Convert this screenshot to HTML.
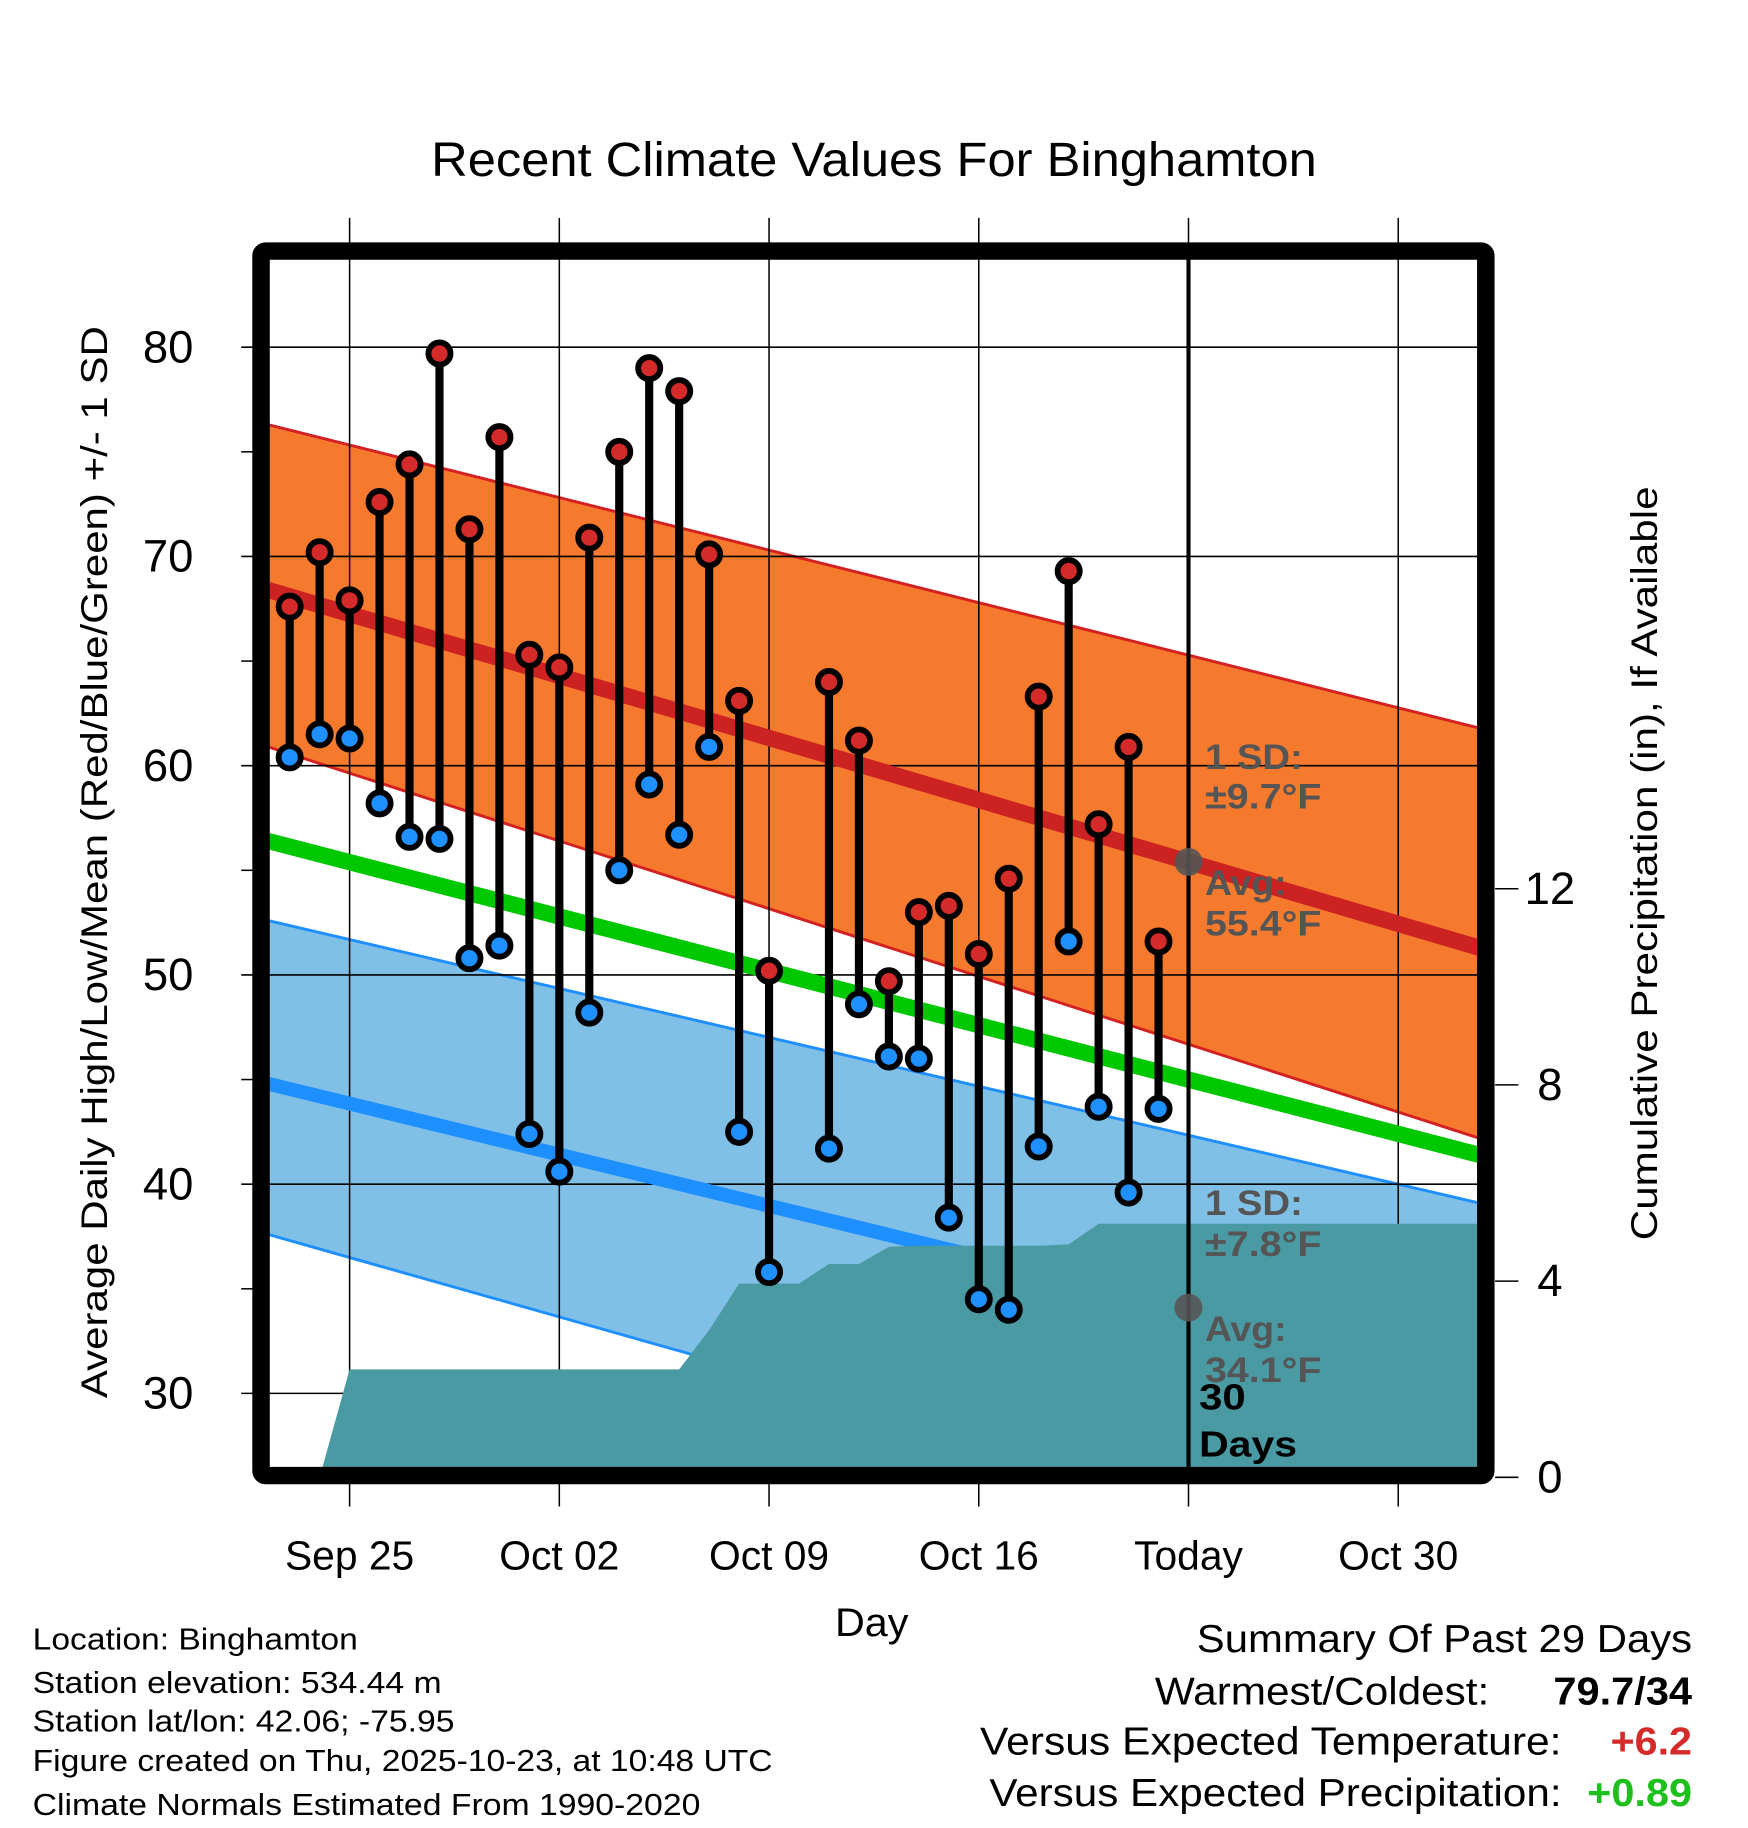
<!DOCTYPE html>
<html><head><meta charset="utf-8"><style>
html,body{margin:0;padding:0;background:#fff;}
svg{display:block;font-family:"Liberation Sans",Arial,sans-serif;}
</style></head><body>
<svg id="chart" width="1748" height="1828" viewBox="0 0 1500 1569" preserveAspectRatio="none" xmlns="http://www.w3.org/2000/svg">
<text x="750" y="151" font-size="41" text-anchor="middle" textLength="760" lengthAdjust="spacingAndGlyphs">Recent Climate Values For Binghamton</text>
<defs><clipPath id="plotclip"><rect x="230" y="222" width="1038" height="1038"/></clipPath></defs>
<g id="bands" clip-path="url(#plotclip)"></g>
<g id="grid"></g>
<g id="lines" clip-path="url(#plotclip)"></g>
<g id="precip" clip-path="url(#plotclip)"></g>
<g id="marks"></g>
<g id="annot"></g>
<rect x="224" y="215.5" width="1051" height="1051" fill="none" stroke="#000" stroke-width="15" rx="4"/>
<g id="axes"></g>
<text x="748" y="1404" font-size="34" text-anchor="middle" textLength="63" lengthAdjust="spacingAndGlyphs">Day</text>
<text transform="translate(92,740) rotate(-90)" font-size="32" text-anchor="middle" textLength="920" lengthAdjust="spacingAndGlyphs">Average Daily High/Low/Mean (Red/Blue/Green) +/- 1 SD</text>
<text transform="translate(1422,741) rotate(-90)" font-size="32" text-anchor="middle" textLength="647" lengthAdjust="spacingAndGlyphs">Cumulative Precipitation (in), If Available</text>
<g font-size="26" lengthAdjust="spacingAndGlyphs">
<text x="28" y="1416" textLength="279" lengthAdjust="spacingAndGlyphs">Location: Binghamton</text>
<text x="28" y="1453" textLength="351" lengthAdjust="spacingAndGlyphs">Station elevation: 534.44 m</text>
<text x="28" y="1486" textLength="362" lengthAdjust="spacingAndGlyphs">Station lat/lon: 42.06; -75.95</text>
<text x="28" y="1520" textLength="635" lengthAdjust="spacingAndGlyphs">Figure created on Thu, 2025-10-23, at 10:48 UTC</text>
<text x="28" y="1558" textLength="573" lengthAdjust="spacingAndGlyphs">Climate Normals Estimated From 1990-2020</text>
</g>
<g font-size="33" text-anchor="end">
<text x="1452" y="1418" textLength="425" lengthAdjust="spacingAndGlyphs">Summary Of Past 29 Days</text>
<text x="1278" y="1463" textLength="287" lengthAdjust="spacingAndGlyphs">Warmest/Coldest:</text>
<text x="1452" y="1463" font-weight="bold" textLength="119" lengthAdjust="spacingAndGlyphs">79.7/34</text>
<text x="1340" y="1506" textLength="499" lengthAdjust="spacingAndGlyphs">Versus Expected Temperature:</text>
<text x="1452" y="1506" font-weight="bold" fill="#d42a2a" textLength="70" lengthAdjust="spacingAndGlyphs">+6.2</text>
<text x="1340" y="1550" textLength="491" lengthAdjust="spacingAndGlyphs">Versus Expected Precipitation:</text>
<text x="1452" y="1550" font-weight="bold" fill="#1ec01e" textLength="90" lengthAdjust="spacingAndGlyphs">+0.89</text>
</g>
</svg>
<script>
// day offsets relative to Sep 25
const dayOffsets=[-2,-1,0,1,2,3,4,5,6,7,8,9,10,11,12,13,14,16,17,18,19,20,21,22,23,24,25,26,27];
const highs=[67.6,70.2,67.9,72.6,74.4,79.7,71.3,75.7,65.3,64.7,70.9,75.0,79.0,77.9,70.1,63.1,50.2,64.0,61.2,49.7,53.0,53.3,51.0,54.6,63.3,69.3,57.2,60.9,51.6];
const lows=[60.4,61.5,61.3,58.2,56.6,56.5,50.8,51.4,42.4,40.6,48.2,55.0,59.1,56.7,60.9,42.5,35.8,41.7,48.6,46.1,46.0,38.4,34.5,34.0,41.8,51.6,43.7,39.6,43.6];
const precipDays=[-1,0,1,2,3,4,5,6,7,8,9,10,11,12,13,14,15,16,17,18,19,20,21,22,23,24,25,26,27];
const precipVals=[0,2.2,2.2,2.2,2.2,2.2,2.2,2.2,2.2,2.2,2.2,2.2,2.2,3.0,3.95,3.95,3.95,4.35,4.35,4.7,4.72,4.72,4.72,4.72,4.72,4.75,5.17,5.17,5.17];
const normalEnds=[-2.72,37.7];
const highUpper=[76.3,61.8];
const highMean=[68.4,51.3];
const highLower=[60.9,42.2];
const meanLine=[56.4,41.4];
const lowUpper=[52.6,39.1];
const lowMean=[44.8,30.7];
const lowLower=[37.6,21.2];
const xTickDays=[0,7,14,21,28,35];
const xTickLabels=["Sep 25","Oct 02","Oct 09","Oct 16","Today","Oct 30"];
const yTicks=[30,40,50,60,70,80];
const yMinor=[35,45,55,65,75];
const y2Ticks=[0,4,8,12];
const todayDay=28;
const avgHighToday=55.4, avgLowToday=34.1;

const X=d=>300+d*25.71;
const Y=v=>298+(80-v)*17.96;
const Y2=p=>1268-p*42.1;
const NS="http://www.w3.org/2000/svg";
function mk(parent,tag,attrs){const e=document.createElementNS(NS,tag);for(const k in attrs)e.setAttribute(k,attrs[k]);document.getElementById(parent).appendChild(e);return e;}
const x0=X(normalEnds[0]),x1=X(normalEnds[1]);
function band(up,lo,fill,edge,name){
  const p=mk('bands','polygon',{points:`${x0},${Y(up[0])} ${x1},${Y(up[1])} ${x1},${Y(lo[1])} ${x0},${Y(lo[0])}`,fill:fill});
  
  
  [up,lo].forEach(a=>{const l=mk('bands','line',{x1:x0,y1:Y(a[0]),x2:x1,y2:Y(a[1]),stroke:edge,'stroke-width':2.5});
    
    });
}
band(highUpper,highLower,'#f57a2e','#d42020','high-sd-band');
band(lowUpper,lowLower,'#80bfe6','#1e8fff','low-sd-band');
xTickDays.forEach(d=>{const l=mk('grid','line',{x1:X(d),y1:187,x2:X(d),y2:1293,stroke:'#000','stroke-width':1.3});
  
  });
yTicks.forEach(v=>{const l=mk('grid','line',{x1:207,y1:Y(v),x2:1268,y2:Y(v),stroke:'#000','stroke-width':1.3});
  
  });
yMinor.forEach(v=>{const l=mk('grid','line',{x1:207,y1:Y(v),x2:217,y2:Y(v),stroke:'#000','stroke-width':1.3});
  
  });
[[highMean,'#cc2222',14,'avg-high-line'],[meanLine,'#00c800',14,'avg-mean-line'],[lowMean,'#1e8fff',12,'avg-low-line']].forEach(([a,c,w,n])=>{
  const l=mk('lines','line',{x1:x0,y1:Y(a[0]),x2:x1,y2:Y(a[1]),stroke:c,'stroke-width':w});
  
  });
let pts=`${X(precipDays[0])},1261 `;
precipDays.forEach((d,i)=>{pts+=`${X(d)},${Y2(precipVals[i])} `;});
pts+=`1270,${Y2(precipVals[precipVals.length-1])} 1270,1261`;
const pa=mk('precip','polygon',{points:pts,fill:'#4a9aa4'});


const tl=mk('marks','line',{x1:X(todayDay),y1:222,x2:X(todayDay),y2:1262,stroke:'#000','stroke-width':3.5});


dayOffsets.forEach((d,i)=>{
  const x=X(d);
  const s=mk('marks','line',{x1:x,y1:Y(highs[i]),x2:x,y2:Y(lows[i]),stroke:'#000','stroke-width':7});
  
  
  [[highs[i],'#d42a2a','high-point'],[lows[i],'#1e90ff','low-point']].forEach(([v,c,n])=>{
    const cc=mk('marks','circle',{cx:x,cy:Y(v),r:9.5,fill:c,stroke:'#000','stroke-width':5});
    
    
  });
});
[[avgHighToday,'avg-high-dot'],[avgLowToday,'avg-low-dot']].forEach(([v,n])=>{
  const c=mk('annot','circle',{cx:X(todayDay),cy:Y(v),r:12,fill:'#555','fill-opacity':0.9});
  
  });
[["1 SD:",660,84],["±9.7°F",694,100],["Avg:",768,70],["55.4°F",803,100],["1 SD:",1043,84],["±7.8°F",1078,100],["Avg:",1151,70],["34.1°F",1186,100]].forEach(([t,y,w])=>{
  const e=mk('annot','text',{x:1034,y:y,'font-size':30,'font-weight':'bold',fill:'#555',textLength:w,lengthAdjust:'spacingAndGlyphs'});e.textContent=t;
  
  });
[["30",1210,40],["Days",1250,84]].forEach(([t,y,w])=>{
  const e=mk('annot','text',{x:1029,y:y,'font-size':31,'font-weight':'bold',fill:'#000',textLength:w,lengthAdjust:'spacingAndGlyphs'});e.textContent=t;
  
  });
xTickDays.forEach((d,i)=>{const e=mk('axes','text',{x:X(d),y:1347,'font-size':35,'text-anchor':'middle'});e.textContent=xTickLabels[i];
  
  });
yTicks.forEach(v=>{const e=mk('axes','text',{x:166,y:Y(v)+13,'font-size':39,'text-anchor':'end'});e.textContent=v;
  
  });
y2Ticks.forEach(p=>{
  const l=mk('axes','line',{x1:1283,y1:Y2(p),x2:1303,y2:Y2(p),stroke:'#000','stroke-width':1.3});
  
  
  const e=mk('axes','text',{x:1330,y:Y2(p)+13,'font-size':39,'text-anchor':'middle'});e.textContent=p;
  
  });
</script>
</body></html>
